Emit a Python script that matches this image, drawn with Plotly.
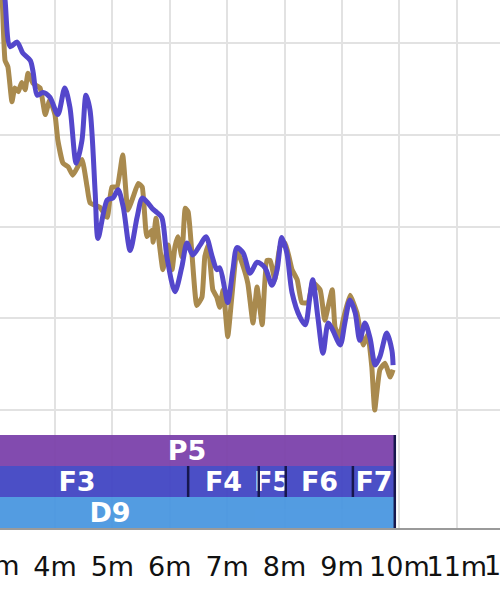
import plotly.graph_objects as go

# ---------------- data ----------------
tick_minutes = [3, 4, 5, 6, 7, 8, 9, 10, 11, 12]
tick_labels = ["3m", "4m", "5m", "6m", "7m", "8m", "9m", "10m", "11m", "12m"]

gold_t = [3.04, 3.08, 3.13, 3.18, 3.25, 3.30, 3.36, 3.42, 3.48, 3.53, 3.62, 3.74, 3.83, 3.91,
          4.00, 4.05, 4.14, 4.23, 4.31, 4.47, 4.56, 4.61, 4.78, 4.91, 4.99, 5.08, 5.18, 5.27,
          5.36, 5.45, 5.52, 5.60, 5.69, 5.71, 5.76, 5.88, 5.97, 6.04, 6.09, 6.14, 6.21, 6.27,
          6.32, 6.39, 6.47, 6.56, 6.61, 6.67, 6.75, 6.82, 6.87, 6.93, 7.01, 7.08, 7.17, 7.26,
          7.36, 7.45, 7.52, 7.61, 7.69, 7.75, 7.83, 7.92, 8.01, 8.13, 8.22, 8.30, 8.41, 8.49,
          8.62, 8.70, 8.83, 8.88, 8.96, 9.02, 9.14, 9.26, 9.37, 9.45, 9.52, 9.57, 9.66, 9.75,
          9.84, 9.89]
gold_v = [146.9, 144.7, 138.1, 137.4, 133.6, 135.1, 134.7, 135.7, 134.9, 136.7, 135.6, 135.1, 132.2, 133.8,
          132.2, 129.4, 126.9, 126.5, 125.6, 127.3, 124.3, 122.6, 122.1, 121.0, 124.3, 124.3, 127.8, 121.8,
          123.2, 124.7, 124.3, 118.9, 119.6, 118.3, 120.9, 115.3, 118.0, 115.3, 117.8, 118.9, 116.7, 122.0,
          121.6, 116.7, 111.4, 112.3, 116.7, 118.0, 113.1, 112.3, 111.2, 113.1, 108.0, 112.3, 117.4, 116.0,
          113.8, 109.5, 113.4, 109.3, 116.3, 116.3, 114.2, 117.8, 118.2, 115.3, 114.2, 111.7, 111.7, 113.9,
          113.1, 109.8, 113.1, 109.0, 108.0, 109.8, 112.5, 110.6, 107.1, 108.2, 104.7, 100.0, 104.4, 105.1,
          103.6, 104.4]

blue_t = [3.09, 3.13, 3.22, 3.34, 3.44, 3.57, 3.62, 3.69, 3.79, 3.91, 4.05, 4.17, 4.26, 4.37,
          4.47, 4.54, 4.61, 4.70, 4.75, 4.91, 5.01, 5.10, 5.19, 5.31, 5.43, 5.52, 5.60, 5.69,
          5.78, 5.86, 5.95, 6.09, 6.21, 6.30, 6.40, 6.53, 6.63, 6.74, 6.82, 6.87, 6.96, 7.01,
          7.10, 7.17, 7.28, 7.40, 7.52, 7.66, 7.78, 7.87, 7.95, 8.04, 8.13, 8.27, 8.36, 8.44,
          8.49, 8.58, 8.67, 8.76, 8.84, 8.97, 9.05, 9.14, 9.23, 9.31, 9.40, 9.49, 9.58, 9.66,
          9.78, 9.87, 9.89]
blue_v = [146.9, 144.7, 139.6, 140.1, 138.9, 138.1, 136.8, 134.3, 134.6, 134.1, 132.2, 135.1, 133.0, 126.9,
          129.4, 134.3, 132.7, 123.7, 118.7, 122.9, 123.1, 124.0, 122.1, 117.4, 121.0, 123.1, 122.7, 122.0,
          121.5, 121.0, 116.7, 112.9, 115.6, 118.2, 116.9, 118.0, 118.9, 116.7, 115.3, 115.5, 113.1, 111.7,
          115.3, 117.7, 117.1, 114.9, 116.1, 115.5, 113.6, 115.3, 118.8, 117.1, 112.8, 110.1, 109.3, 112.3,
          114.2, 110.1, 106.2, 109.5, 108.7, 107.1, 109.5, 112.0, 110.6, 107.6, 109.5, 107.8, 104.9, 105.8,
          108.4, 106.5, 104.9]

segment_names = ["P5", "F3", "F4", "F5", "F6", "F7", "D9"]
segment_rows = [2, 1, 1, 1, 1, 1, 0]          # 2 = P row, 1 = F row, 0 = D row
segment_start = [2.68, 2.45, 6.32, 7.55, 8.02, 9.19, 0.00]
segment_end = [9.92, 6.32, 7.55, 8.02, 9.19, 9.92, 9.92]

# ---------------- style ----------------
row_colors = {2: "#7c42ab", 1: "#4246c4", 0: "#4a97e0"}
GOLD = "#a98a4e"
BLUE = "#5447cb"
GRID = "#e2e2e2"
SEP = "#17174d"
X_RANGE = [3.042, 11.753]
Y_RANGE = [97.28, 144.69]
BAR_FRAC = 93 / 528
FONT = "DejaVu Sans"

fig = go.Figure()

fig.add_trace(go.Scatter(x=gold_t, y=gold_v, mode="lines",
                         line=dict(color=GOLD, width=5, shape="spline", smoothing=0.4),
                         xaxis="x", yaxis="y", hoverinfo="skip"))
fig.add_trace(go.Scatter(x=blue_t, y=blue_v, mode="lines",
                         line=dict(color=BLUE, width=5, shape="spline", smoothing=0.8),
                         xaxis="x", yaxis="y", hoverinfo="skip"))

fig.add_trace(go.Bar(
    y=segment_rows,
    x=[e - s for s, e in zip(segment_start, segment_end)],
    base=segment_start,
    orientation="h",
    width=1,
    marker=dict(color=[row_colors[r] for r in segment_rows], line=dict(width=0)),
    opacity=0.95,
    text=segment_names,
    textposition="inside",
    insidetextanchor="middle",
    textangle=0,
    constraintext="none",
    textfont=dict(color="white", size=27, family=FONT, weight="bold"),
    xaxis="x", yaxis="y2", hoverinfo="skip",
))

# separators between F segments and end line, derived from segment data
sep_x, sep_y = [], []
for name, r, e in zip(segment_names, segment_rows, segment_end):
    if r == 1 and e < max(segment_end):
        sep_x += [e, e, None]
        sep_y += [r - 0.5, r + 0.5, None]
end_x = max(segment_end)
sep_x += [end_x, end_x]
sep_y += [-0.5, 2.5]
fig.add_trace(go.Scatter(x=sep_x, y=sep_y, mode="lines",
                         line=dict(color=SEP, width=2.5),
                         xaxis="x", yaxis="y2", hoverinfo="skip"))

# tick labels that fall just outside the visible range (partially cut at edges)
annotations = []
for t, lab in zip(tick_minutes, tick_labels):
    if t < X_RANGE[0] or t > X_RANGE[1]:
        annotations.append(dict(
            x=(t - X_RANGE[0]) / (X_RANGE[1] - X_RANGE[0]), xref="paper", xanchor="center",
            y=0, yref="paper", yanchor="middle", yshift=-37,
            text=lab, showarrow=False,
            font=dict(size=27, family=FONT, color="#111111")))

fig.update_layout(
    width=500, height=600,
    margin=dict(l=0, r=0, t=0, b=72),
    paper_bgcolor="white", plot_bgcolor="white",
    showlegend=False,
    barmode="overlay",
    bargap=0,
    uniformtext=dict(minsize=27, mode="show"),
    xaxis=dict(range=X_RANGE, anchor="y2", tickvals=tick_minutes, ticktext=tick_labels,
               showgrid=True, gridcolor=GRID, gridwidth=2, zeroline=False,
               showline=True, linecolor="#9a9a9a", linewidth=1.5,
               ticks="", ticklabelstandoff=14, tickangle=0,
               tickfont=dict(size=27, family=FONT, color="#111111")),
    yaxis=dict(domain=[BAR_FRAC, 1], range=Y_RANGE, anchor="x", tick0=100, dtick=10,
               showgrid=True, gridcolor=GRID, gridwidth=2, zeroline=False,
               showticklabels=False, ticks=""),
    yaxis2=dict(domain=[0, BAR_FRAC], range=[-0.5, 2.5], anchor="x",
                showgrid=False, zeroline=False, showticklabels=False, ticks=""),
    annotations=annotations,
)

fig.write_html("out.html", config={"displayModeBar": False},
               post_script="document.body.style.margin='0';document.body.style.overflow='hidden';")
